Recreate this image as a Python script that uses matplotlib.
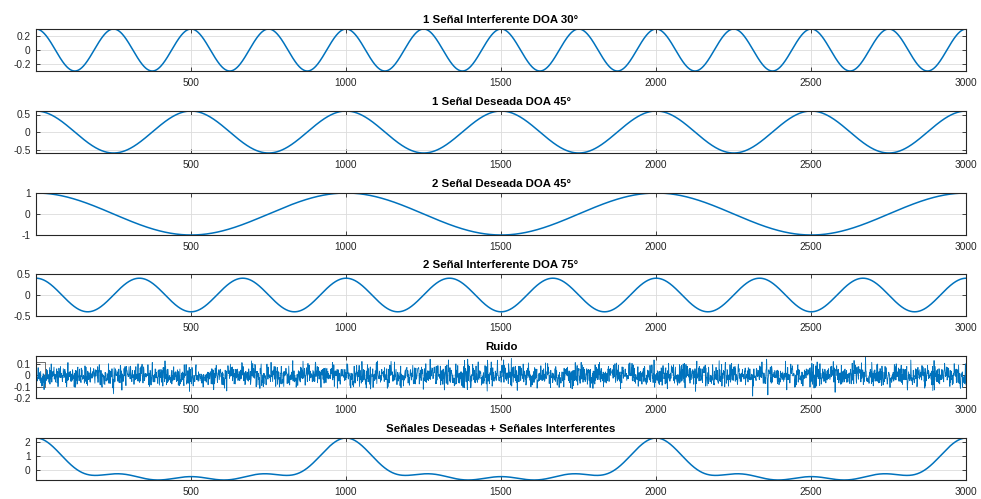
import matplotlib

matplotlib.use("Agg")
import matplotlib.pyplot as plt
import numpy as np
from matplotlib.patches import Rectangle

plt.rcParams["font.family"] = ["Liberation Sans", "DejaVu Sans"]

# Samples 1..3000
N_SAMPLES = 3000

# Four tones: amplitude and period (in samples)
TITLES = [
    "1 Señal Interferente DOA 30°",
    "1 Señal Deseada DOA 45°",
    "2 Señal Deseada DOA 45°",
    "2 Señal Interferente DOA 75°",
    "Ruido",
    "Señales Deseadas + Señales Interferentes",
]
AMPLITUDES = [0.3, 0.6, 1.0, 0.4]
PERIODS = [250, 500, 1000, 1000 / 3]

# Noise level (std) and fixed seed so the trace is repeatable
NOISE_STD = 0.05
NOISE_SEED = 7

Y_TICKS = [
    [-0.2, 0, 0.2],
    [-0.5, 0, 0.5],
    [-1, 0, 1],
    [-0.5, 0, 0.5],
    [-0.2, -0.1, 0, 0.1],
    [0, 1, 2],
]
Y_LIMITS = [
    (-0.3, 0.3),
    (-0.6, 0.6),
    (-1.0, 1.0),
    (-0.5, 0.5),
    (-0.2, 0.17),
    None,
]
X_TICKS = [500, 1000, 1500, 2000, 2500, 3000]

LINE_COLOR = "#0072BD"
TEXT_COLOR = "#262626"

n = np.arange(1, N_SAMPLES + 1)
tones = [a * np.cos(2 * np.pi * (n - 1) / p) for a, p in zip(AMPLITUDES, PERIODS)]
noise = np.random.default_rng(NOISE_SEED).normal(0.0, NOISE_STD, N_SAMPLES)
series = tones + [noise, np.sum(tones, axis=0)]

W, H = 981, 499
fig = plt.figure(figsize=(W / 100, H / 100), dpi=100)
left_px, right_px, height_px = 36, 966, 42
tops_px = [29, 111, 193, 274, 356, 438]

for i, (title, y) in enumerate(zip(TITLES, series)):
    top = tops_px[i]
    ax = fig.add_axes([
        left_px / W,
        1 - (top + height_px) / H,
        (right_px - left_px) / W,
        height_px / H,
    ])
    lw = 0.6 if title == "Ruido" else 1.1
    ax.plot(n, y, color=LINE_COLOR, linewidth=lw)
    ax.set_xlim(1, N_SAMPLES)
    if Y_LIMITS[i] is not None:
        ax.set_ylim(*Y_LIMITS[i])
    else:
        ax.set_ylim(y.min(), y.max())
    ax.set_xticks(X_TICKS)
    ax.set_yticks(Y_TICKS[i])
    ax.set_yticklabels([f"{t:g}" for t in Y_TICKS[i]])
    ax.grid(True, color="#dcdcdc", linewidth=0.6)
    ax.set_axisbelow(True)
    ax.tick_params(
        direction="in", length=3, width=0.6, top=True, right=True,
        labelsize=7.3, colors=TEXT_COLOR,
    )
    ax.tick_params(axis="x", pad=5)
    ax.tick_params(axis="y", pad=4)
    for spine in ax.spines.values():
        spine.set_color(TEXT_COLOR)
        spine.set_linewidth(0.8)
    ax.set_title(title, fontsize=8.2, fontweight="bold", pad=4, color="black")

    if title == "Ruido":
        # empty legend frame left in the corner of the noise panel
        ax.add_patch(Rectangle(
            (0.0, 0.27), 0.01, 0.58, transform=ax.transAxes,
            fill=False, edgecolor="#555555", linewidth=0.6,
        ))

fig.savefig("out.png", dpi=100)
